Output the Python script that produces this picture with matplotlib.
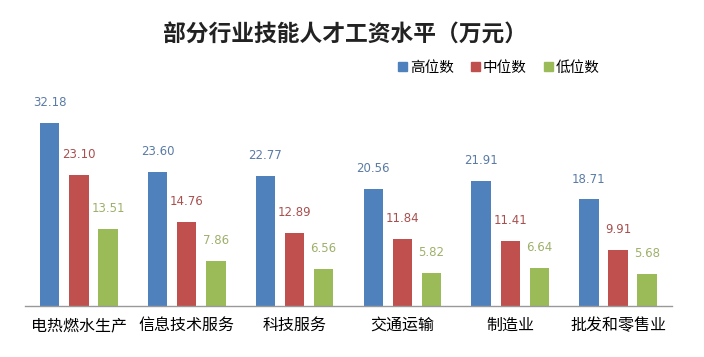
import matplotlib

matplotlib.use("Agg")
import matplotlib.pyplot as plt
import numpy as np
from matplotlib.patches import Patch

plt.rcParams["font.family"] = ["Noto Sans CJK SC", "DejaVu Sans"]

industries = ["电热燃水生产", "信息技术服务", "科技服务", "交通运输", "制造业", "批发和零售业"]
series_names = ["高位数", "中位数", "低位数"]
high = [32.18, 23.60, 22.77, 20.56, 21.91, 18.71]
median = [23.10, 14.76, 12.89, 11.84, 11.41, 9.91]
low = [13.51, 7.86, 6.56, 5.82, 6.64, 5.68]

bar_colors = ["#4F81BD", "#C0504D", "#9BBB59"]
label_colors = ["#5A7BA6", "#A8504F", "#9DB06A"]

fig = plt.figure(figsize=(7.04, 3.57), dpi=100)
ax = fig.add_axes([0.0355, 0.143, 0.919, 0.577])

x = np.arange(len(industries))
step = 0.27
width = 0.18
for i, vals in enumerate([high, median, low]):
    pos = x + (i - 1) * step
    ax.bar(pos, vals, width=width, color=bar_colors[i], zorder=2)
    for px, v in zip(pos, vals):
        ax.annotate(f"{v:.2f}", (px, v), xytext=(0, 10), textcoords="offset points",
                    ha="center", va="bottom", fontsize=8.5, color=label_colors[i],
                    family=["DejaVu Sans"])

ax.set_xlim(-0.5, len(industries) - 0.5)
ax.set_ylim(0, 36.2)
ax.set_yticks([])
ax.set_xticks(x)
ax.set_xticklabels(industries, fontsize=11.5)
ax.tick_params(axis="x", length=0, pad=8)
for side in ["top", "right", "left"]:
    ax.spines[side].set_visible(False)
ax.spines["bottom"].set_color("#999999")
ax.spines["bottom"].set_linewidth(1.0)

fig.text(0.49, 0.902, "部分行业技能人才工资水平（万元）", ha="center", va="center",
         fontsize=16.4, fontweight="bold", color="#222222")

handles = [Patch(color=c) for c in bar_colors]
ax.legend(handles, series_names, loc="center", bbox_to_anchor=(0.709, 0.81),
          bbox_transform=fig.transFigure, frameon=False, ncol=3, fontsize=10.5,
          handlelength=0.6, handleheight=0.6, handletextpad=0.2, columnspacing=1.2)

fig.savefig("out.png", dpi=100)
